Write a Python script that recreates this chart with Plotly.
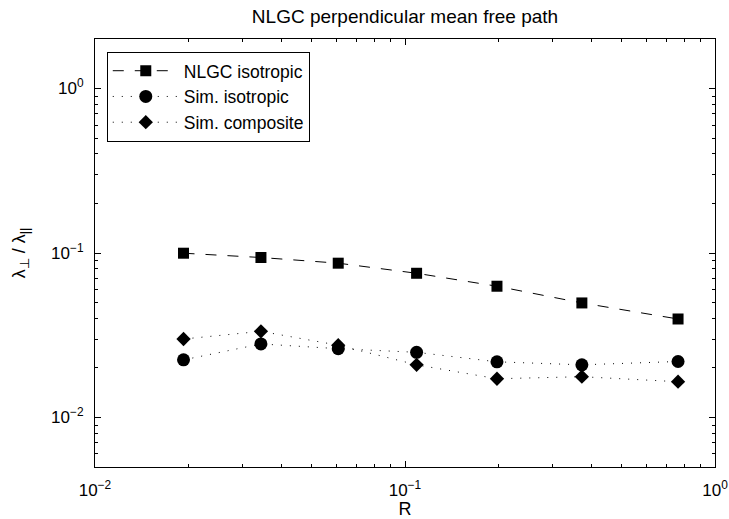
import plotly.graph_objects as go

# Ratio of perpendicular to parallel mean free path versus R
r_vals = [0.0193, 0.0343, 0.0609, 0.109, 0.198, 0.372, 0.760]
nlgc_iso = [0.0997, 0.0939, 0.0867, 0.0753, 0.0628, 0.0497, 0.0397]
sim_iso = [0.0224, 0.0280, 0.0262, 0.0249, 0.0218, 0.0209, 0.0219]
sim_comp = [0.0300, 0.0334, 0.0275, 0.0209, 0.0172, 0.0177, 0.0165]

series_names = ["NLGC isotropic", "Sim. isotropic", "Sim. composite"]

x_ticks = [0.01, 0.1, 1]
x_ticktext = ["10<sup>−2</sup>", "10<sup>−1</sup>", "10<sup>0</sup>"]
y_ticks = [0.01, 0.1, 1]
y_ticktext = ["10<sup>−2</sup>", "10<sup>−1</sup>", "10<sup>0</sup>"]

FONT = "Liberation Sans, Arial, Helvetica, sans-serif"

fig = go.Figure()
fig.add_trace(go.Scatter(
    x=r_vals, y=nlgc_iso, name=series_names[0], mode="lines+markers",
    line=dict(color="black", width=1, dash="11px,11px"),
    marker=dict(symbol="square", size=11, color="black"),
))
fig.add_trace(go.Scatter(
    x=r_vals, y=sim_iso, name=series_names[1], mode="lines+markers",
    line=dict(color="black", width=1, dash="1px,8px"),
    marker=dict(symbol="circle", size=13, color="black"),
))
fig.add_trace(go.Scatter(
    x=r_vals, y=sim_comp, name=series_names[2], mode="lines+markers",
    line=dict(color="black", width=1, dash="1px,8px"),
    marker=dict(symbol="diamond", size=11, color="black"),
))

minor_vals = []
for d in [0.001, 0.01, 0.1, 1]:
    for k in range(2, 10):
        minor_vals.append(k * d)

axis_common = dict(
    type="log",
    automargin=False,
    showgrid=False,
    zeroline=False,
    showline=True,
    linecolor="black",
    linewidth=1,
    mirror="ticks",
    ticks="inside",
    ticklen=6,
    tickcolor="black",
    tickfont=dict(family=FONT, size=17, color="black"),
    minor=dict(ticks="inside", ticklen=3, tickcolor="black",
               tickmode="array", tickvals=minor_vals, showgrid=False),
)

fig.update_xaxes(
    **axis_common,
    range=[-2, 0],
    tickmode="array", tickvals=x_ticks, ticktext=x_ticktext,
    ticklabelstandoff=8,
    title=dict(text="R", font=dict(family=FONT, size=18, color="black"), standoff=10),
)
fig.update_yaxes(
    **axis_common,
    range=[-2.30103, 0.30103],
    tickmode="array", tickvals=y_ticks, ticktext=y_ticktext,
    ticklabelstandoff=7,
    title=dict(text="λ<sub>⊥</sub> / λ<sub>||</sub>",
               font=dict(family=FONT, size=18, color="black"), standoff=20),
)

fig.update_layout(
    width=729, height=519,
    margin=dict(l=95, r=14, t=39, b=52, autoexpand=False),
    paper_bgcolor="white",
    plot_bgcolor="white",
    title=dict(text="NLGC perpendicular mean free path", x=0.5, xref="paper",
               y=0.969, yanchor="middle",
               font=dict(family=FONT, size=19, color="black")),
    legend=dict(
        x=0.019, y=0.97, xanchor="left", yanchor="top",
        bgcolor="white", bordercolor="black", borderwidth=1,
        font=dict(family=FONT, size=17.5, color="black"),
        itemwidth=66, tracegroupgap=0,
    ),
    showlegend=True,
)

fig.write_html("out.html")
